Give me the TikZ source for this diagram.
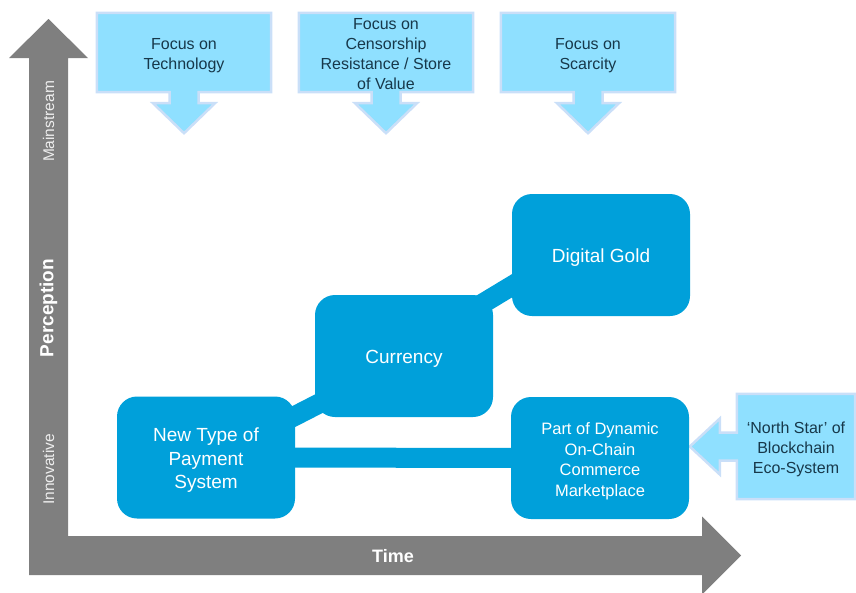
\documentclass[tikz,border=0pt]{standalone}
\usepackage{fontspec}
\setmainfont{Liberation Sans}
\usetikzlibrary{calc,backgrounds}
\definecolor{axisgray}{HTML}{7F7F7F}
\definecolor{mainblue}{HTML}{00A0DA}
\definecolor{callfill}{HTML}{8FE0FF}
\definecolor{callline}{HTML}{CADFF8}
\definecolor{calltext}{HTML}{17384A}
\definecolor{axistext}{HTML}{EEEEEE}
\begin{document}
\begin{tikzpicture}[x=1pt,y=-1pt,
  mainbox/.style={fill=mainblue, rounded corners=20pt, minimum width=178pt, minimum height=122pt, inner sep=0pt},
  boxlab/.style={text=white, align=center, font=\fontsize{19}{23.5}\selectfont, inner sep=0pt, yshift=-3pt},
  callbox/.style={minimum width=174pt, minimum height=79pt, inner sep=0pt},
  calllab/.style={text=calltext, align=center, font=\fontsize{16}{20}\selectfont, inner sep=0pt, yshift=-3pt},
  callshape/.style={fill=callfill, draw=callline, line width=2.5pt, line join=miter},
  band/.style={draw=mainblue, line width=20pt},
  axistxt/.style={text=axistext, font=\fontsize{15.5}{18}\selectfont, rotate=90},
  axisbold/.style={text=white, font=\bfseries\fontsize{18}{22}\selectfont},
]
\useasboundingbox (0,0) rectangle (856,592);
% axes
\fill[axisgray] (29,575) -- (29,58) -- (9,58) -- (48.5,19) -- (88,58) -- (68,58) -- (68,536) -- (702,536) -- (702,516.5) -- (741,555.5) -- (702,594.5) -- (702,575) -- cycle;
\node[axistxt] (ms) at (48.5,121.5) {Mainstream};
\node[axistxt] (inn) at (48.5,469.5) {Innovative};
\node[axisbold, rotate=90, font=\bfseries\fontsize{19}{22}\selectfont] (pc) at (48.5,308) {Perception};
\node[axisbold] (tm) at (393,556) {Time};
% main boxes
\node[mainbox, label={[boxlab]center:New Type of\\Payment\\System}] (nt) at (206,457.5) {};
\node[mainbox, label={[boxlab]center:Currency}] (cur) at (404,356) {};
\node[mainbox, label={[boxlab]center:Digital Gold}] (dg) at (601,255) {};
\node[mainbox, label={[boxlab, font=\fontsize{16.5}{20.5}\selectfont]center:Part of Dynamic\\On-Chain\\Commerce\\Marketplace}] (pd) at (600,458) {};
% callouts
\node[callbox, label={[calllab]center:Focus on\\Technology}] (c1) at (184,52.5) {};
\node[callbox, label={[calllab, yshift=1pt]center:Focus on\\Censorship\\Resistance / Store\\of Value}] (c2) at (386,52.5) {};
\node[callbox, label={[calllab]center:Focus on\\Scarcity}] (c3) at (588,52.5) {};
\node[callbox, minimum width=118pt, minimum height=105pt, label={[calllab]center:‘North Star’ of\\Blockchain\\Eco-System}] (c4) at (796,446.5) {};
\begin{scope}[on background layer]
  \draw[band] ([yshift=-4pt]nt.center) -- ([yshift=-4pt]cur.center);
  \draw[band] ([yshift=5pt]cur.center) -- ([yshift=23pt]dg.center);
  \draw[band] (nt.center) -- (pd.center);
  \foreach \c in {c1,c2,c3}{
    \draw[callshape] (\c.north west) -- (\c.north east) -- (\c.south east)
      -- ($(\c.south)+(14.5,0)$) -- ++(0,11) -- ++(16.5,0)
      -- ($(\c.south)+(0,41)$) -- ($(\c.south)+(-31,11)$) -- ++(16.5,0)
      -- ($(\c.south)+(-14.5,0)$) -- (\c.south west) -- cycle;
  }
  \draw[callshape] (c4.north west) -- (c4.north east) -- (c4.south east) -- (c4.south west)
    -- ($(c4.west)+(0,14)$) -- ++(-17,0) -- ++(0,14)
    -- ($(c4.west)+(-47,0)$) -- ($(c4.west)+(-17,-28)$) -- ++(0,14)
    -- ($(c4.west)+(0,-14)$) -- cycle;
\end{scope}
\end{tikzpicture}
\end{document}
